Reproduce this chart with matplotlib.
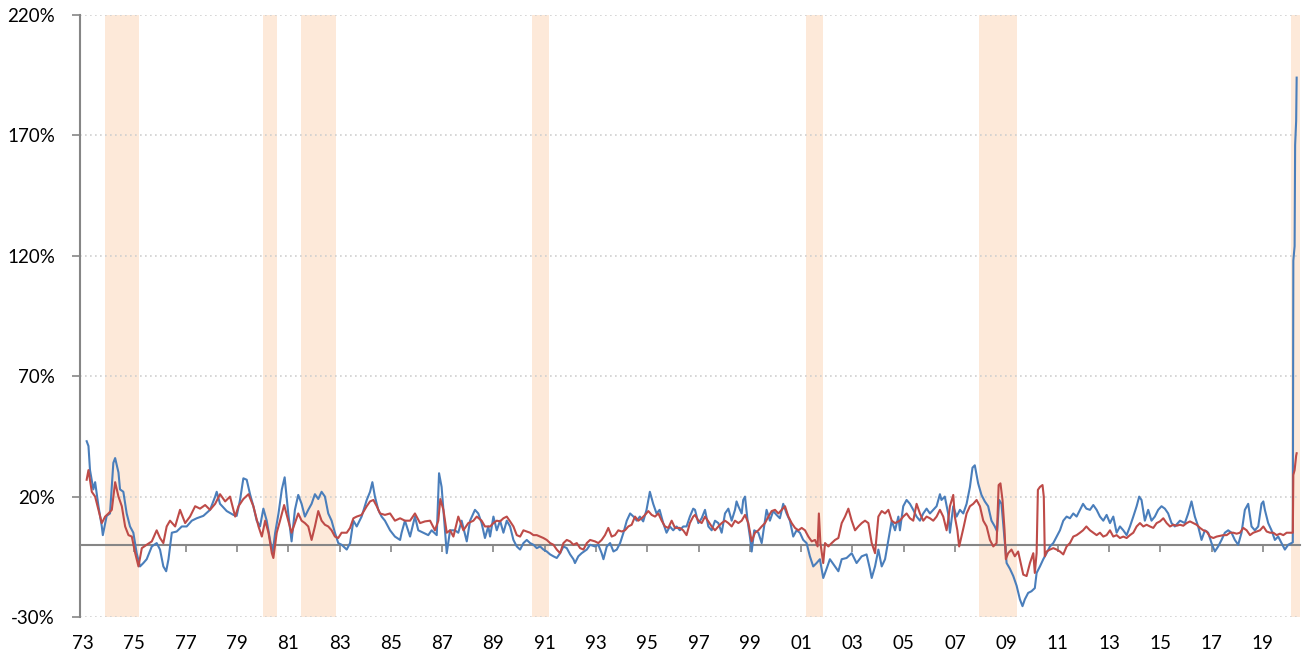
import numpy as np
import matplotlib
matplotlib.use("Agg")
import matplotlib.pyplot as plt

plt.rcParams["font.family"] = ["Lato", "DejaVu Sans"]

# recession periods (decimal years)
recessions = [(1973.87, 1975.20), (1980.00, 1980.55), (1981.50, 1982.87),
              (1990.50, 1991.17), (2001.17, 2001.85), (2007.92, 2009.42),
              (2020.08, 2020.45)]

# blue series, %
blue_t = [1973.14, 1973.21, 1973.27, 1973.40, 1973.47, 1973.60, 1973.73, 1973.77, 1973.92, 1974.05,
          1974.18, 1974.25, 1974.38, 1974.44, 1974.57, 1974.70, 1974.83, 1974.96, 1975.09, 1975.22,
          1975.35, 1975.48, 1975.68, 1975.87, 1976.00, 1976.13, 1976.24, 1976.33, 1976.46, 1976.65,
          1976.85, 1977.04, 1977.24, 1977.43, 1977.69, 1977.95, 1978.15, 1978.21, 1978.34, 1978.60,
          1978.86, 1978.99, 1979.12, 1979.25, 1979.38, 1979.51, 1979.64, 1979.77, 1979.90, 1980.03,
          1980.16, 1980.29, 1980.39, 1980.49, 1980.62, 1980.75, 1980.86,
          1981.00, 1981.13, 1981.26, 1981.39, 1981.52, 1981.65, 1981.78, 1981.91, 1982.04, 1982.17,
          1982.30, 1982.43, 1982.56, 1982.69, 1982.82, 1982.95, 1983.08, 1983.28, 1983.41, 1983.54,
          1983.67, 1983.86, 1984.06, 1984.19, 1984.28, 1984.38, 1984.51, 1984.64, 1984.77, 1984.97,
          1985.16, 1985.36, 1985.42, 1985.55, 1985.75, 1985.94, 1986.07, 1986.27, 1986.46, 1986.59,
          1986.79, 1986.88, 1986.98, 1987.09, 1987.18, 1987.31, 1987.50, 1987.63, 1987.76, 1987.96,
          1988.09, 1988.28, 1988.41, 1988.54, 1988.67, 1988.80,
          1988.87, 1989.00, 1989.13, 1989.26, 1989.39, 1989.52, 1989.65, 1989.78, 1989.91, 1990.04,
          1990.17, 1990.30, 1990.43, 1990.56, 1990.69, 1990.82, 1990.95, 1991.08, 1991.21, 1991.34,
          1991.47, 1991.60, 1991.73, 1991.86, 1991.99, 1992.12, 1992.18, 1992.31, 1992.44, 1992.64,
          1992.77, 1992.96, 1993.09, 1993.22, 1993.29, 1993.42, 1993.55, 1993.68, 1993.81, 1993.94,
          1994.07, 1994.20, 1994.33, 1994.46, 1994.59, 1994.71, 1994.84, 1994.97, 1995.10, 1995.23,
          1995.36, 1995.48, 1995.62, 1995.75, 1995.88, 1996.01, 1996.14, 1996.27, 1996.40, 1996.53,
          1996.66, 1996.79,
          1996.86, 1996.99, 1997.12, 1997.25, 1997.38, 1997.51, 1997.64, 1997.77, 1997.90, 1998.03,
          1998.16, 1998.29, 1998.42, 1998.48, 1998.55, 1998.68, 1998.74, 1998.81, 1998.91, 1999.00,
          1999.07, 1999.17, 1999.33, 1999.46, 1999.59, 1999.65, 1999.78, 1999.91, 2000.04, 2000.17,
          2000.30, 2000.43, 2000.56, 2000.69, 2000.82, 2000.95, 2001.08, 2001.21, 2001.34, 2001.47,
          2001.60, 2001.73, 2001.86, 2001.99, 2002.12, 2002.32, 2002.45, 2002.58, 2002.77, 2002.97,
          2003.16, 2003.36, 2003.55, 2003.68, 2003.75, 2003.88, 2004.01, 2004.14, 2004.27, 2004.40,
          2004.53, 2004.66, 2004.79,
          2004.85, 2004.98, 2005.11, 2005.24, 2005.37, 2005.50, 2005.63, 2005.76, 2005.89, 2006.02,
          2006.15, 2006.28, 2006.41, 2006.47, 2006.60, 2006.73, 2006.80, 2006.93, 2007.06, 2007.19,
          2007.32, 2007.45, 2007.58, 2007.68, 2007.77, 2007.90, 2008.03, 2008.16, 2008.29, 2008.42,
          2008.55, 2008.64, 2008.72, 2008.81, 2008.90, 2009.01, 2009.14, 2009.27, 2009.40, 2009.53,
          2009.63, 2009.72, 2009.85, 2009.98, 2010.11, 2010.18, 2010.31, 2010.44, 2010.57, 2010.70,
          2010.83, 2010.96, 2011.09, 2011.22, 2011.35, 2011.48, 2011.61, 2011.74, 2011.87, 2011.99,
          2012.12, 2012.26, 2012.39, 2012.52,
          2012.65, 2012.78, 2012.91, 2013.04, 2013.17, 2013.30, 2013.43, 2013.56, 2013.69, 2013.82,
          2013.95, 2014.08, 2014.18, 2014.27, 2014.40, 2014.53, 2014.66, 2014.79, 2014.92, 2015.05,
          2015.18, 2015.31, 2015.44, 2015.57, 2015.77, 2015.96, 2016.09, 2016.22, 2016.35, 2016.48,
          2016.61, 2016.74, 2016.87, 2017.00, 2017.13, 2017.26, 2017.39, 2017.52, 2017.65, 2017.78,
          2017.91, 2018.04, 2018.17, 2018.30, 2018.43, 2018.56, 2018.69, 2018.82, 2018.95, 2019.02,
          2019.08, 2019.21, 2019.34, 2019.47, 2019.60, 2019.73, 2019.86, 2019.99, 2020.12, 2020.17,
          2020.19, 2020.24, 2020.26, 2020.30, 2020.32]
blue_v = [43, 41, 31, 23, 26, 16, 7.6, 4, 12, 13,
          34, 36, 30, 23, 22, 13, 7.6, 5, -3.5, -9,
          -7.6, -6, -0.7, 0.7, -2, -9, -11, -6, 5, 5.5,
          7.6, 7.6, 10, 11, 12, 14.5, 20, 22, 17, 14,
          12.4, 12, 18.6, 27.6, 27, 21, 16, 10, 7.6, 15,
          10, 2, -3.5, 5, 13, 23, 28,
          13, 1.4, 14.5, 20.7, 17, 11.7, 14.5, 17, 21, 19,
          22, 20, 13, 10, 5, 0.7, 0, -2, 0.7, 10,
          7.6, 11.7, 18.6, 22, 26, 20, 14.5, 11.7, 10, 6,
          3.4, 2, 5, 10, 3.4, 11.7, 6, 5, 4, 6,
          4, 29.7, 24, 9, -3.5, 6, 6, 5, 10, 1.4,
          10, 14.5, 13, 9, 2.8, 7.6,
          3.4, 11.7, 6, 10, 5, 10, 7.6, 2, -0.7, -2,
          0.7, 2, 0.7, 0, -1.4, -0.7, -2, -2.8, -4, -4.8,
          -5.5, -3.5, -0.7, -1.4, -4, -6, -7.6, -4.8, -3.5, -2,
          0, -0.7, 0, -3.5, -6, -0.7, 0.7, -2.8, -2, 0.7,
          5, 10, 13, 11.7, 10, 11.7, 9.7, 14.5, 22, 17,
          13, 14.5, 9, 5, 7.6, 6, 7.6, 6, 7.6, 7.6,
          11.7, 15,
          14.5, 9, 11, 14.5, 7.6, 6, 10, 9, 5, 13,
          15, 10, 14.5, 18, 16, 13, 18.6, 20, 10, 3.4,
          -2.8, 6, 5, 0.7, 10, 14.5, 10, 14, 12.4, 11,
          17, 13, 10, 3.4, 6, 5, 2, 0.7, -4.8, -9,
          -7.6, -6, -13.8, -10, -6, -9, -11, -6, -5.5, -3.5,
          -7.6, -4.8, -4, -10, -13.8, -9, -2, -9, -6, 2,
          10, 6, 11.7,
          6, 16, 18.6, 17, 14.5, 11.7, 10, 13, 15, 13,
          14.5, 16, 21, 18.6, 20, 13, 5, 16, 11.7, 14.5,
          13, 17, 24, 32, 33, 25.5, 20.7, 18, 16, 10,
          7.6, 5.5, 18.6, 17, 6, -7.6, -10, -13, -17, -22.7,
          -25.5, -22.7, -20, -19.3, -18, -11.7, -9, -6, -3.5, -0.7,
          0.7, 3.4, 6, 10, 11.7, 11, 13, 11.7, 14.5, 17,
          15, 14.5, 16.5, 14.5,
          11.7, 10, 12.4, 9, 11.7, 5, 7.6, 6, 4, 7.6,
          11.7, 16, 20, 18.6, 10, 14.5, 10, 11.7, 14.5, 16,
          15, 13, 9, 7.6, 10, 9, 13, 18, 11.7, 7.6,
          2, 6, 5, 0.7, -2.8, -0.7, 2, 5, 6, 5,
          2, 0, 5, 14.5, 17, 7.6, 6, 7.6, 17, 18,
          14.5, 9, 6, 2, 3.4, 0.7, -2, 0, 0.7, 1,
          118, 124, 166, 176, 194]

# red series, %
red_t = [1973.14, 1973.21, 1973.34, 1973.47, 1973.60, 1973.73, 1973.86, 1973.99, 1974.12, 1974.25,
         1974.38, 1974.51, 1974.64, 1974.77, 1974.90, 1975.03, 1975.16, 1975.29, 1975.48, 1975.68,
         1975.87, 1976.00, 1976.13, 1976.26, 1976.39, 1976.59, 1976.78, 1976.98, 1977.17, 1977.37,
         1977.56, 1977.76, 1977.95, 1978.15, 1978.34, 1978.54, 1978.73, 1978.93, 1979.06, 1979.25,
         1979.45, 1979.64, 1979.84, 1979.97, 1980.10, 1980.23, 1980.36, 1980.42, 1980.55, 1980.68,
         1980.84,
         1981.00, 1981.13, 1981.26, 1981.39, 1981.52, 1981.65, 1981.78, 1981.91, 1982.04, 1982.17,
         1982.30, 1982.43, 1982.56, 1982.69, 1982.82, 1982.95, 1983.08, 1983.28, 1983.41, 1983.54,
         1983.67, 1983.86, 1984.06, 1984.19, 1984.32, 1984.45, 1984.58, 1984.77, 1984.97, 1985.16,
         1985.36, 1985.55, 1985.75, 1985.94, 1986.14, 1986.33, 1986.53, 1986.72, 1986.85, 1986.93,
         1987.05, 1987.18, 1987.31, 1987.44, 1987.63, 1987.83, 1988.02, 1988.22, 1988.35, 1988.54,
         1988.67,
         1988.87, 1989.00, 1989.13, 1989.26, 1989.39, 1989.52, 1989.65, 1989.78, 1989.91, 1990.04,
         1990.17, 1990.30, 1990.43, 1990.56, 1990.69, 1990.82, 1990.95, 1991.08, 1991.21, 1991.34,
         1991.47, 1991.60, 1991.73, 1991.86, 1991.99, 1992.12, 1992.25, 1992.38, 1992.51, 1992.64,
         1992.77, 1992.96, 1993.09, 1993.22, 1993.35, 1993.48, 1993.61, 1993.74, 1993.87, 1994.00,
         1994.13, 1994.26, 1994.39, 1994.52, 1994.65, 1994.78, 1994.91, 1995.04, 1995.17, 1995.30,
         1995.43, 1995.56, 1995.69, 1995.82, 1995.95, 1996.08, 1996.27, 1996.40, 1996.53, 1996.66,
         1996.79,
         1996.86, 1996.99, 1997.12, 1997.25, 1997.38, 1997.51, 1997.64, 1997.77, 1997.90, 1998.03,
         1998.16, 1998.29, 1998.42, 1998.55, 1998.68, 1998.81, 1998.94, 1999.07, 1999.20, 1999.33,
         1999.46, 1999.59, 1999.72, 1999.85, 1999.98, 2000.11, 2000.24, 2000.37, 2000.50, 2000.63,
         2000.76, 2000.89, 2001.02, 2001.15, 2001.28, 2001.41, 2001.54, 2001.64, 2001.69, 2001.75,
         2001.86, 2001.93, 2002.06, 2002.19, 2002.32, 2002.45, 2002.58, 2002.71, 2002.84, 2002.97,
         2003.10, 2003.23, 2003.36, 2003.49, 2003.62, 2003.75, 2003.88, 2004.01, 2004.14, 2004.27,
         2004.40, 2004.53, 2004.66, 2004.79,
         2004.85, 2004.98, 2005.11, 2005.24, 2005.37, 2005.50, 2005.63, 2005.76, 2005.89, 2006.02,
         2006.15, 2006.28, 2006.41, 2006.54, 2006.67, 2006.73, 2006.80, 2006.93, 2006.99, 2007.09,
         2007.16, 2007.25, 2007.34, 2007.45, 2007.58, 2007.71, 2007.84, 2007.97, 2008.10, 2008.23,
         2008.36, 2008.49, 2008.62, 2008.70, 2008.77, 2008.85, 2008.93, 2008.98, 2009.07, 2009.20,
         2009.33, 2009.46, 2009.59, 2009.66, 2009.79, 2009.92, 2010.05, 2010.11, 2010.18, 2010.23,
         2010.31, 2010.41, 2010.46, 2010.50, 2010.57, 2010.70, 2010.83, 2010.96, 2011.09, 2011.22,
         2011.35, 2011.48, 2011.61, 2011.74, 2011.87, 2011.99, 2012.12, 2012.26, 2012.39, 2012.52,
         2012.65, 2012.78, 2012.91, 2013.04, 2013.17, 2013.30, 2013.43, 2013.56, 2013.69, 2013.82,
         2013.95, 2014.08, 2014.21, 2014.34, 2014.47, 2014.60, 2014.73, 2014.86, 2014.99, 2015.12,
         2015.25, 2015.38, 2015.51, 2015.64, 2015.77, 2015.90, 2016.03, 2016.16, 2016.29, 2016.42,
         2016.55, 2016.68, 2016.81, 2016.94, 2017.07, 2017.20, 2017.33, 2017.46, 2017.59, 2017.72,
         2017.85, 2017.98, 2018.11, 2018.24, 2018.37, 2018.50, 2018.63, 2018.76, 2018.89, 2019.02,
         2019.15, 2019.28, 2019.41, 2019.54, 2019.67, 2019.80, 2019.93, 2020.06, 2020.12, 2020.17,
         2020.19, 2020.24, 2020.30, 2020.32]
red_v = [27, 31, 22, 20, 14.5, 9, 11.7, 13, 14.5, 26,
         20, 16, 7.6, 4, 3.4, -3.4, -9, -1.4, 0, 1.4,
         6, 2.8, 0.7, 7.6, 10, 7.6, 14.5, 9, 11.7, 16,
         15, 16.5, 14.5, 17, 21, 18, 20, 11.7, 16, 19,
         21, 16, 7.6, 3.4, 10, 5, -3.5, -5.5, 5, 10,
         16.5,
         10, 5, 9, 13, 10, 9, 7.6, 2, 7.6, 14,
         10, 8.3, 7.6, 6, 3.4, 2.8, 5, 5, 7, 11,
         11.7, 12.4, 16, 18, 18.6, 16, 13, 12.4, 13, 10,
         11, 10, 10, 13, 9, 9.7, 10, 6, 10, 19,
         14.5, 5, 6, 3.4, 11.7, 6, 9, 10, 11.7, 10,
         7.6,
         7.6, 9, 10, 9.7, 11, 11.7, 9.7, 7.6, 4, 3.4,
         6, 5.5, 5, 4, 4, 3.4, 2.8, 2, 0.7, 0,
         -2, -3.5, 0.7, 2, 1.4, 0, 0.7, -1.4, -2, 0.7,
         2, 1.4, 0.7, 2, 4, 7, 3.4, 4, 6, 5.5,
         6, 7.6, 8.3, 11.7, 10, 11, 12.4, 14, 12.4, 11.7,
         13, 10, 7.6, 7, 10, 7, 7, 6, 4, 9,
         11.7,
         12.4, 10, 9, 11.7, 9.7, 7.6, 6, 7.6, 9, 10,
         9, 7.6, 10, 9, 10, 12.4, 9, 1.4, 5, 6,
         7.6, 9, 11.7, 14, 14.5, 13, 14.5, 16, 11.7, 9,
         7, 6, 7, 6, 3.4, 1.4, 2, -0.7, 13, 0.7,
         -7.6, 0.7, -0.7, 0.7, 2, 2.8, 9, 11.7, 15, 10,
         6, 7.6, 9, 10, 9, 0.7, -3.5, 11.7, 14, 13,
         14.5, 10, 9, 9.7,
         10, 11.7, 13, 11, 10, 17, 13, 10, 11.7, 11,
         10, 11.7, 14.5, 11.7, 6, 10, 16, 20.7, 11.7, 6,
         -0.7, 3.4, 7.6, 13, 16, 17, 18.6, 16, 10, 7.6,
         2, -0.7, 0.7, 24.8, 25.5, 18.6, 6, -6, -3.5, -2,
         -4.8, -2.8, -9, -12.4, -13, -7.6, -3.5, -11.7, -3.5, 22.8,
         24, 24.8, 20, -4.8, -2.8, -2, -1.4, -2, -2.8, -4,
         -0.7, 0.7, 3.4, 4, 5, 6, 7.6, 6, 5, 4,
         5, 3.4, 4, 6, 3.4, 4, 2.8, 3.4, 2.8, 4,
         5, 7.6, 9, 7.6, 8.3, 7.6, 7, 9, 9.7, 11,
         9, 7.6, 8.3, 7.9, 8.3, 7.9, 9, 9.7, 9, 8.3,
         7, 6, 5.5, 3.4, 2.8, 3.4, 3.7, 4, 4, 5,
         5, 4.6, 5, 7, 6, 4, 5, 5.5, 6, 7.6,
         5.5, 5, 5, 4, 4.6, 4, 5, 5, 5, 5,
         29, 31, 37, 38]

tick_years = list(range(1975, 2020, 2))
label_years = list(range(1973, 2020, 2))
y_ticks = [-30, 20, 70, 120, 170, 220]

fig = plt.figure(figsize=(13.03, 6.56), dpi=100)
ax = fig.add_axes([80 / 1303, 1 - 617 / 656, 1220 / 1303, 602 / 656])

for start, end in recessions:
    ax.axvspan(start, end, color="#fde9d9", lw=0, zorder=0)

ax.plot(blue_t, blue_v, color="#4a7ebb", lw=1.5, zorder=3)
ax.plot(red_t, red_v, color="#be4b48", lw=1.5, zorder=4)

ax.set_xlim(1972.88, 2020.45)
ax.set_ylim(-30, 220)
ax.set_yticks(y_ticks)
ax.set_yticklabels([f"{v}%" for v in y_ticks])
ax.yaxis.grid(True, linestyle=(0, (1, 2)), color="#cfcfcf", lw=1.2)
ax.set_axisbelow(True)

ax.set_xticks(label_years)
ax.set_xticklabels([f"{y % 100:02d}" for y in label_years])
ax.tick_params(axis="x", length=0, pad=13, labelsize=13.5, colors="#000000")
ax.tick_params(axis="y", length=6, width=1.2, color="#868686", pad=12, labelsize=13.5)

for side in ("top", "right", "bottom"):
    ax.spines[side].set_visible(False)
ax.spines["left"].set_color("#868686")
ax.spines["left"].set_linewidth(1.5)

# zero line with the year ticks
zero_frac = (0 - (-30)) / (220 - (-30))
sec = ax.secondary_xaxis(zero_frac)
sec.set_xticks(tick_years)
sec.set_xticklabels([])
sec.tick_params(length=5, width=1.2, color="#868686", direction="out")
sec.spines["bottom"].set_color("#868686")
sec.spines["bottom"].set_linewidth(1.5)

fig.savefig("out.png", dpi=100)
